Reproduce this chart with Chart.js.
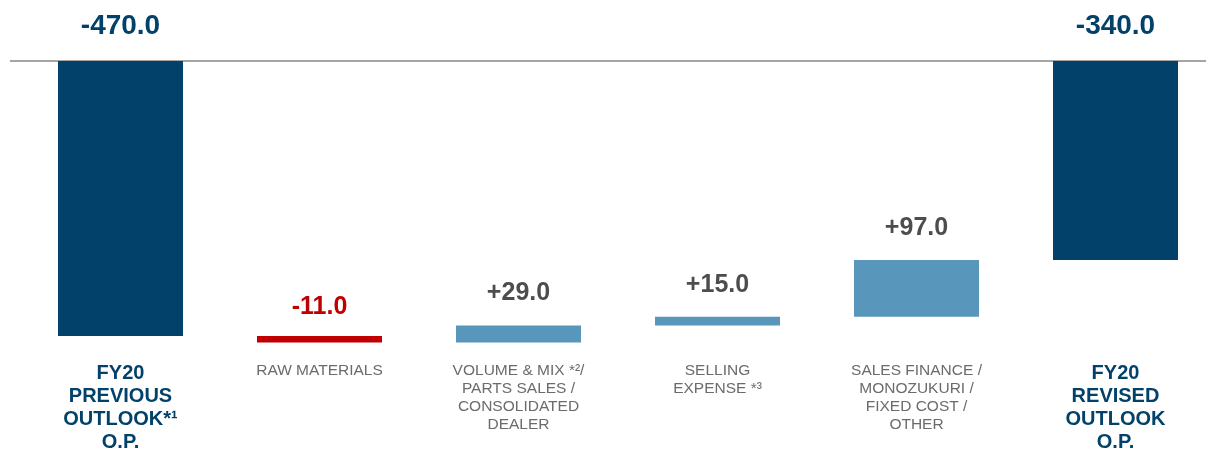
<!DOCTYPE html>
<html>
<head>
<meta charset="utf-8">
<script src="https://cdn.jsdelivr.net/npm/chart.js@4/dist/chart.umd.min.js"></script>
<style>
  html, body { margin: 0; padding: 0; background: #fff; overflow: hidden; }
  #wrap { position: relative; width: 1216px; height: 450px; }
</style>
</head>
<body>
<div id="wrap"><canvas id="chart-1"></canvas></div>
<script>
const categories = [
  ['FY20', 'PREVIOUS', 'OUTLOOK*¹', 'O.P.'],
  ['RAW MATERIALS'],
  ['VOLUME & MIX *²/', 'PARTS SALES /', 'CONSOLIDATED', 'DEALER'],
  ['SELLING', 'EXPENSE *³'],
  ['SALES FINANCE /', 'MONOZUKURI /', 'FIXED COST /', 'OTHER'],
  ['FY20', 'REVISED', 'OUTLOOK', 'O.P.']
]
const startValue = -470.0
const deltas = [-11.0, 29.0, 15.0, 97.0]
const endValue = -340.0
const yTicks = { min: -500, max: 0 }

const NAVY = '#02416a'
const BLUE = '#5896bc'
const RED = '#c00000'
const GRAY_VALUE = '#4d4d4d'
const GRAY_LABEL = '#6b6b6b'
const FONT = "'Liberation Sans', Arial, sans-serif"

// build floating bars for the waterfall
const bars = [[0, startValue]]
const labelsText = [startValue.toFixed(1)]
let running = startValue
deltas.forEach(d => {
  bars.push([running, running + d])
  labelsText.push((d > 0 ? '+' : '') + d.toFixed(1))
  running += d
})
bars.push([0, endValue])
labelsText.push(endValue.toFixed(1))

const isTotal = i => i === 0 || i === bars.length - 1
const isDown = i => bars[i][1] < bars[i][0]
const barColors = bars.map((b, i) => isTotal(i) ? NAVY : (isDown(i) ? RED : BLUE))
const valueColors = bars.map((b, i) => isTotal(i) ? NAVY : (isDown(i) ? RED : GRAY_VALUE))

const zeroLine = {
  id: 'zeroLine',
  beforeDatasetsDraw (chart) {
    const ctx = chart.ctx
    const y = chart.scales.y.getPixelForValue(0)
    ctx.save()
    ctx.strokeStyle = '#a6a6a6'
    ctx.lineWidth = 2
    ctx.beginPath()
    ctx.moveTo(10, y)
    ctx.lineTo(chart.width, y)
    ctx.stroke()
    ctx.restore()
  }
}

const valueLabels = {
  id: 'valueLabels',
  afterDatasetsDraw (chart) {
    const ctx = chart.ctx
    const meta = chart.getDatasetMeta(0)
    ctx.save()
    ctx.textAlign = 'center'
    ctx.textBaseline = 'middle'
    meta.data.forEach((bar, i) => {
      const top = Math.min(bar.y, bar.base)
      let gap = 32
      if (isTotal(i)) gap = 35
      else if (isDown(i)) gap = 29
      ctx.font = isTotal(i) ? `bold 28px ${FONT}` : `bold 25px ${FONT}`
      ctx.fillStyle = valueColors[i]
      ctx.fillText(labelsText[i], bar.x, top - gap)
    })
    ctx.restore()
  }
}

new Chart(document.getElementById('chart-1'), {
  type: 'bar',
  data: {
    labels: categories,
    datasets: [
      {
        data: bars,
        backgroundColor: barColors,
        borderWidth: 0,
        barPercentage: 1,
        categoryPercentage: 125 / 199
      }
    ]
  },
  options: {
    responsive: true,
    maintainAspectRatio: false,
    animation: false,
    layout: {
      padding: { left: 21, right: 1, top: 61, bottom: 0 }
    },
    scales: {
      x: {
        grid: { display: false },
        border: { display: false },
        ticks: {
          maxRotation: 0,
          autoSkip: false,
          padding: 0,
          color: ctx => isTotal(ctx.index) ? NAVY : GRAY_LABEL,
          font: ctx => isTotal(ctx.index)
            ? { family: FONT, size: 20, weight: 'bold', lineHeight: 1.15 }
            : { family: FONT, size: 15.5, weight: 'normal', lineHeight: 1.17 }
        },
        afterFit: scale => { scale.height = 96.5 }
      },
      y: {
        display: false,
        min: yTicks.min,
        max: yTicks.max
      }
    },
    plugins: {
      legend: { display: false },
      tooltip: { enabled: false }
    }
  },
  plugins: [zeroLine, valueLabels]
})
</script>
</body>
</html>
